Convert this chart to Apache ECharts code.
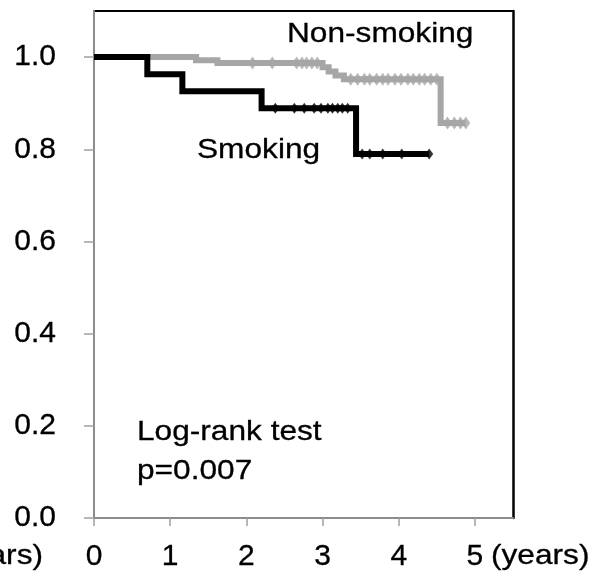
<!DOCTYPE html>
<html>
<head>
<meta charset="utf-8">
<script src="https://cdn.jsdelivr.net/npm/echarts@6/dist/echarts.min.js"></script>
<style>
  html, body { margin: 0; padding: 0; background: #fff; }
  #chart { width: 596px; height: 581px; }
</style>
</head>
<body>
<div id="chart"></div>
<script>
// Kaplan–Meier survival: smoking vs non-smoking (time in years)
const xTicks = [0, 1, 2, 3, 4, 5];
const yTicks = [0, 0.2, 0.4, 0.6, 0.8, 1.0];

// Smoking group: step times and survival after each step
const smokingTime = [0, 0.70, 1.16, 2.20, 3.44, 4.40];
const smokingSurv = [1.0, 0.963, 0.926, 0.889, 0.790, 0.790];
const smokingCensor = [2.38, 2.63, 2.76, 2.89, 2.98, 3.07, 3.13, 3.20, 3.26, 3.33,
                       3.52, 3.62, 3.79, 4.04, 4.40];

// Non-smoking group
const nonSmokingTime = [0, 1.34, 1.62, 3.00, 3.08, 3.17, 3.28, 4.55, 4.88];
const nonSmokingSurv = [1.0, 0.993, 0.987, 0.978, 0.969, 0.960, 0.952, 0.857, 0.857];
const nonSmokingCensor = [2.08, 2.34, 2.66, 2.73, 2.79, 2.86, 2.93,
                          3.37, 3.46, 3.55, 3.62, 3.71, 3.79, 3.86, 3.95, 4.03,
                          4.12, 4.19, 4.27, 4.34, 4.42, 4.50,
                          4.64, 4.73, 4.81, 4.88];

const FONT = '"Liberation Sans", Arial, sans-serif';
const GREY = '#a6a6a6';
const STRETCH = 1.13;

function stepPairs(times, surv) {
  return times.map((t, i) => [t, surv[i]]);
}
// survival level in effect at time t
function levelAt(times, surv, t) {
  let s = surv[0];
  for (let i = 0; i < times.length; i++) {
    if (times[i] <= t) s = surv[i];
  }
  return s;
}
function censorPairs(times, surv, cens) {
  return cens.map(t => [t, levelAt(times, surv, t)]);
}

const chart = echarts.init(document.getElementById('chart'), null, { renderer: 'canvas' });

const label = (text, x, y, align) => ({
  type: 'text',
  x: x, y: y,
  scaleX: STRETCH,
  z: 100,
  style: {
    text: text,
    font: '28px ' + FONT,
    fill: '#000',
    stroke: '#000',
    lineWidth: 0.3,
    textAlign: align || 'left',
    textVerticalAlign: 'middle',
    align: align || 'left',
    verticalAlign: 'middle'
  }
});

const tickLabelStyle = {
  fontSize: 30, fontFamily: FONT, color: '#000',
  textBorderColor: '#000', textBorderWidth: 0.3
};

chart.setOption({
  animation: false,
  backgroundColor: '#fff',
  grid: { left: 94, right: 83, top: 11, bottom: 63, containLabel: false, outerBoundsMode: 'none' },
  xAxis: [{
    type: 'value', min: 0, max: 5.5, interval: 1,
    axisLine: { show: true, onZero: false, lineStyle: { color: '#8c8c8c', width: 2 } },
    axisTick: { show: true, inside: false, length: 8, customValues: xTicks,
                lineStyle: { color: '#a0a0a0', width: 1.5 } },
    axisLabel: Object.assign({ customValues: xTicks, margin: 24,
                               formatter: v => String(v) }, tickLabelStyle),
    splitLine: { show: false },
    z: 3
  }, {
    type: 'value', position: 'top', min: 0, max: 5.5,
    axisLine: { show: true, onZero: false, lineStyle: { color: '#000', width: 2 } },
    axisTick: { show: false }, axisLabel: { show: false }, splitLine: { show: false },
    z: 2
  }],
  yAxis: [{
    type: 'value', min: 0, max: 1.1, interval: 0.2,
    axisLine: { show: true, onZero: false, lineStyle: { color: '#8c8c8c', width: 2 } },
    axisTick: { show: true, inside: false, length: 10, customValues: yTicks,
                lineStyle: { color: '#a0a0a0', width: 1.5 } },
    axisLabel: Object.assign({ customValues: yTicks, margin: 38,
                               formatter: v => v.toFixed(1) }, tickLabelStyle),
    splitLine: { show: false },
    z: 3
  }, {
    type: 'value', position: 'right', min: 0, max: 1.1,
    axisLine: { show: true, onZero: false, lineStyle: { color: '#000', width: 2.5 } },
    axisTick: { show: false }, axisLabel: { show: false }, splitLine: { show: false },
    z: 2
  }],
  series: [
    {
      name: 'Non-smoking', type: 'line', step: 'end', z: 2,
      data: stepPairs(nonSmokingTime, nonSmokingSurv),
      showSymbol: false, symbol: 'none',
      lineStyle: { color: GREY, width: 6, join: 'miter', cap: 'butt' }
    },
    {
      name: 'Non-smoking censored', type: 'scatter', z: 3,
      data: censorPairs(nonSmokingTime, nonSmokingSurv, nonSmokingCensor),
      symbol: 'diamond', symbolSize: [9, 13],
      itemStyle: { color: GREY }
    },
    {
      name: 'Smoking', type: 'line', step: 'end', z: 4,
      data: stepPairs(smokingTime, smokingSurv),
      showSymbol: false, symbol: 'none',
      lineStyle: { color: '#000', width: 6, join: 'miter', cap: 'butt' }
    },
    {
      name: 'Smoking censored', type: 'scatter', z: 5,
      data: censorPairs(smokingTime, smokingSurv, smokingCensor),
      symbol: 'diamond', symbolSize: [8, 11],
      itemStyle: { color: '#000' }
    }
  ],
  graphic: [
    label('Non-smoking', 287, 34),
    label('Smoking', 197, 150),
    label('Log-rank test', 137, 432),
    label('p=0.007', 137, 471),
    label('(years)', 491, 556),
    label('(years)', 43, 556, 'right')
  ]
});
</script>
</body>
</html>
